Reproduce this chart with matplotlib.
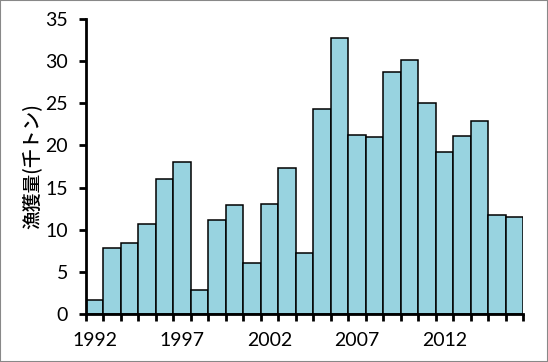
import matplotlib
matplotlib.use("Agg")
import matplotlib.pyplot as plt
import numpy as np

years = list(range(1992, 2017))
catch = [1.7, 7.8, 8.4, 10.7, 16.0, 18.0, 2.8, 11.1, 12.9, 6.1, 13.0, 17.3, 7.2,
         24.3, 32.7, 21.2, 21.0, 28.7, 30.1, 25.0, 19.2, 21.1, 22.9, 11.8, 11.5]
label_years = [1992, 1997, 2002, 2007, 2012]
ylabel = "漁獲量(千トン)"

plt.rcParams['font.family'] = ['Lato', 'Noto Sans CJK JP', 'DejaVu Sans']

fig = plt.figure(figsize=(5.48, 3.62), dpi=100)
ax = fig.add_axes([86/548, 1-314/362, (523-86)/548, (314-19)/362])

ax.bar(years, catch, width=1.0, color='#98D3E0', edgecolor='black', linewidth=1.1)

ax.set_xlim(years[0]-0.5, years[-1]+0.5)
ax.set_ylim(0, 35)
ax.set_yticks(range(0, 36, 5))
ax.set_xticks(label_years)
ax.set_xticklabels([str(y) for y in label_years])
ax.set_xticks(np.arange(years[0]-0.5, years[-1]+1.0, 1.0), minor=True)
ax.tick_params(axis='x', which='major', length=0, pad=13, labelsize=14)
ax.tick_params(axis='x', which='minor', length=5, width=2, direction='out')
ax.tick_params(axis='y', which='major', length=5, width=2, direction='out', labelsize=14, pad=8)

for s in ['top', 'right']:
    ax.spines[s].set_visible(False)
for s in ['left', 'bottom']:
    ax.spines[s].set_linewidth(2)

ax.set_ylabel(ylabel, family=['Noto Sans CJK JP', 'DejaVu Sans'], fontsize=13.5,
              fontweight='medium', labelpad=3)

fig.patches.append(plt.Rectangle((0, 0), 1, 1, transform=fig.transFigure,
                                 fill=False, edgecolor='#888888', linewidth=1.5))

fig.savefig('out.png', dpi=100)
